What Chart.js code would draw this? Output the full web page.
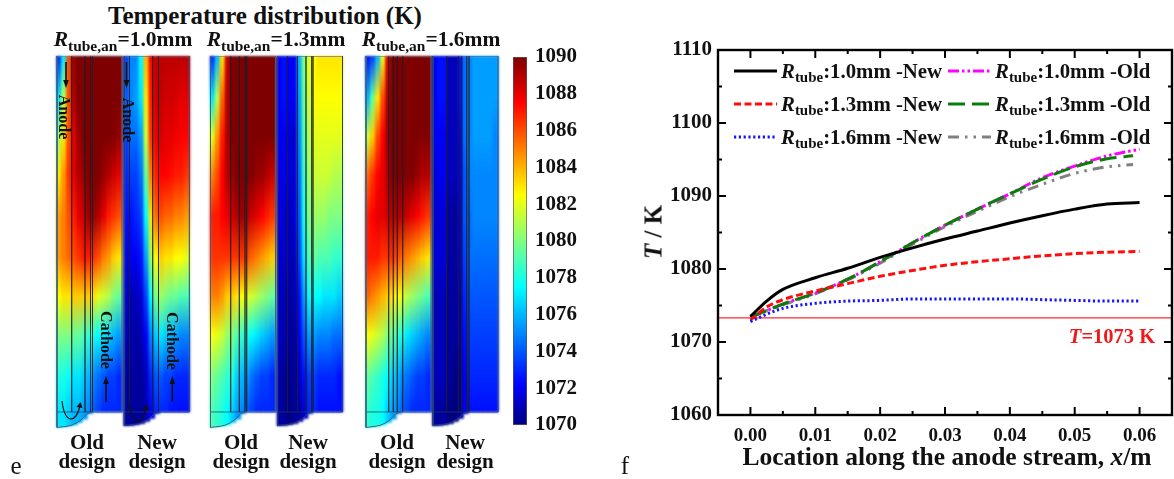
<!DOCTYPE html>
<html>
<head>
<meta charset="utf-8">
<script src="https://cdn.jsdelivr.net/npm/chart.js@4"></script>
<style>
  html, body { margin: 0; padding: 0; background: #fff; }
  #page { position: relative; width: 1174px; height: 479px; overflow: hidden; font-family: "Liberation Serif", serif; font-weight: bold; color: #111; }
  canvas { position: absolute; }
  #heatCanvas { left: 50px; top: 56px; filter: blur(1.2px); }
  #overlayCanvas { left: 50px; top: 56px; }
  #barCanvas { left: 513px; top: 40px; }
  #lineCanvas { left: 640px; top: 20px; }
  .t { position: absolute; white-space: nowrap; transform: translate(-50%, -50%); line-height: 1; }
  .t sub { font-size: 0.72em; vertical-align: -0.3em; line-height: 0; }
  .design { font-size: 21px; text-align: center; line-height: 19px; white-space: normal; width: 70px; }
  .rot { font-size: 16px; transform: translate(-50%, -50%) rotate(90deg); }
  .swatch { position: absolute; }
</style>
</head>
<body>
<div id="page">
  <canvas id="heatCanvas" width="450" height="372"></canvas>
  <canvas id="overlayCanvas" width="450" height="372"></canvas>
  <canvas id="barCanvas" width="70" height="400"></canvas>
  <canvas id="lineCanvas" width="534" height="459"></canvas>

  <div class="t" style="left:265px;top:15px;font-size:25px">Temperature distribution (K)</div>
  <div class="t" style="left:123px;top:40px;font-size:21.5px"><i>R</i><sub>tube,an</sub>=1.0mm</div>
  <div class="t" style="left:276px;top:40px;font-size:21.5px"><i>R</i><sub>tube,an</sub>=1.3mm</div>
  <div class="t" style="left:431px;top:40px;font-size:21.5px"><i>R</i><sub>tube,an</sub>=1.6mm</div>

  <div class="t rot" style="left:64px;top:117px">Anode</div>
  <div class="t rot" style="left:128px;top:120px">Anode</div>
  <div class="t rot" style="left:106px;top:340px">Cathode</div>
  <div class="t rot" style="left:172px;top:341px">Cathode</div>

  <div class="t design" style="left:87px;top:452px">Old design</div>
  <div class="t design" style="left:157px;top:452px">New design</div>
  <div class="t design" style="left:241px;top:452px">Old design</div>
  <div class="t design" style="left:308px;top:452px">New design</div>
  <div class="t design" style="left:397px;top:452px">Old design</div>
  <div class="t design" style="left:465px;top:452px">New design</div>

  <div class="t" style="left:16px;top:465px;font-size:25px;font-weight:normal">e</div>
  <div class="t" style="left:625px;top:465px;font-size:25px;font-weight:normal">f</div>

  <div class="t" style="left:653px;top:232px;font-size:25px;transform:translate(-50%,-50%) rotate(-90deg)"><i>T</i> / K</div>
  <div class="t" style="left:947px;top:457px;font-size:25.5px"><span>Location along the anode stream, </span><i>x</i>/m</div>
  <div class="t" style="left:1112px;top:336px;font-size:20.5px;color:#f01818"><i>T</i>=1073 K</div>
  <div id="legendBox"></div>
</div>

<script>
// colour bar
const barTicks = [1070, 1072, 1074, 1076, 1078, 1080, 1082, 1084, 1086, 1088, 1090]

// T along the anode stream (panel f)
const xLoc = [0, 0.0025, 0.005, 0.01, 0.015, 0.02, 0.025, 0.03, 0.035, 0.04, 0.045, 0.05, 0.055, 0.06]
const xLocShort = [0, 0.0025, 0.005, 0.01, 0.015, 0.02, 0.025, 0.03, 0.035, 0.04, 0.045, 0.05, 0.055, 0.059]
const new10 = [1073.5, 1075.6, 1077.2, 1078.8, 1080.1, 1081.6, 1082.9, 1084.1, 1085.2, 1086.3, 1087.3, 1088.2, 1088.9, 1089.1]
const new13 = [1073, 1074.8, 1075.8, 1077, 1078, 1079, 1079.8, 1080.5, 1081, 1081.4, 1081.8, 1082.1, 1082.3, 1082.4]
const new16 = [1072.8, 1073.8, 1074.6, 1075.3, 1075.6, 1075.7, 1075.9, 1075.9, 1075.9, 1075.9, 1075.8, 1075.7, 1075.6, 1075.6]
const old10 = [1073.4, 1074.3, 1075.2, 1076.7, 1078.6, 1081, 1083.6, 1086, 1088.2, 1090.3, 1092.5, 1094.1, 1095.5, 1096.4]
const old13 = [1073.4, 1074.3, 1075.2, 1076.7, 1078.6, 1081, 1083.6, 1086, 1088.2, 1090.3, 1092.3, 1094, 1095.1, 1095.5]
const old16 = [1073.4, 1074.3, 1075.1, 1076.6, 1078.5, 1080.8, 1083.4, 1085.8, 1087.9, 1089.9, 1091.6, 1093.1, 1094, 1094.3]
const refTemp = 1073.3
const xTicks = [0, 0.01, 0.02, 0.03, 0.04, 0.05, 0.06]
const yTicks = [1060, 1070, 1080, 1090, 1100, 1110]

// temperature fields (panel e): one row per depth, one value per column
const rowDepth = [0, 7, 13.5, 20, 27, 34, 40.5, 47, 54, 60]
const heatOld10 = [
  [1073, 1077, 1086, 1089.5, 1090, 1090, 1090, 1090, 1090, 1090, 1090, 1090, 1090],
  [1077, 1081, 1086, 1089, 1090, 1090, 1090, 1090, 1090, 1090, 1090, 1090, 1090],
  [1080.5, 1083, 1086, 1088, 1089.5, 1090, 1090, 1090, 1090, 1090, 1090, 1090, 1089.5],
  [1083, 1084.5, 1086.5, 1088, 1089, 1089.5, 1090, 1090, 1090, 1089.5, 1089, 1088.5, 1088],
  [1084.5, 1085, 1086, 1087, 1088, 1088.5, 1089.5, 1089.5, 1089, 1088, 1087, 1086.5, 1086],
  [1084.5, 1085, 1085.5, 1086, 1086.5, 1087, 1087, 1086.5, 1086, 1085, 1084.5, 1083.5, 1083],
  [1082.5, 1083, 1083, 1083.5, 1083.5, 1083.5, 1083.5, 1083, 1082, 1081.5, 1081, 1080, 1079.5],
  [1080, 1080, 1080, 1079.5, 1079.5, 1079, 1078.5, 1078, 1077.5, 1077, 1076.5, 1076, 1075.5],
  [1078, 1078, 1077.5, 1077, 1077, 1076.5, 1076, 1075, 1074.5, 1074, 1073.5, 1073.5, 1073],
  [1077, 1077, 1076.5, 1076, 1076, 1075.5, 1075, 1074, 1073.5, 1073, 1073, 1073, 1073]
]
const heatNew10 = [
  [1073.5, 1075, 1075, 1077.5, 1084, 1087.5, 1088.8, 1088.8, 1088.8, 1088.8, 1088.8, 1088.8, 1088.8],
  [1074, 1075, 1075.5, 1077, 1083, 1087, 1088.5, 1088.7, 1088.4, 1088.4, 1088.3, 1088, 1088],
  [1073.5, 1074.5, 1074.5, 1075.5, 1081.5, 1086.5, 1088, 1088.3, 1088, 1088, 1087.8, 1087.6, 1087.5],
  [1073, 1073.5, 1073.5, 1074.5, 1079.5, 1085, 1087, 1087.5, 1087.5, 1087.3, 1087, 1087, 1086.5],
  [1072.5, 1072.5, 1073, 1073.5, 1077.5, 1083, 1085.5, 1086, 1085.5, 1085.5, 1085, 1085, 1084.5],
  [1072, 1072, 1072, 1072.5, 1075.5, 1080.5, 1082.5, 1083.5, 1083, 1083, 1082.5, 1082.5, 1082],
  [1071.5, 1071, 1071, 1071.5, 1073.5, 1077.5, 1080, 1080.5, 1080, 1079.5, 1079.5, 1079, 1079],
  [1071, 1071, 1070.5, 1071, 1072, 1075, 1076.5, 1077, 1076.5, 1076, 1075.5, 1075, 1075],
  [1070.5, 1070.5, 1070.5, 1070.5, 1071, 1073, 1074, 1074, 1073.5, 1073.5, 1073, 1073, 1073],
  [1070.5, 1070.5, 1070.5, 1070.5, 1071, 1072, 1073, 1073, 1073, 1072.5, 1072.5, 1072.5, 1072.5]
]
const heatOld13 = [
  [1073, 1076, 1083, 1088.5, 1090, 1090, 1090, 1090, 1090, 1090, 1090, 1090, 1090],
  [1077, 1081, 1085.5, 1089, 1090, 1090, 1090, 1090, 1090, 1090, 1090, 1090, 1090],
  [1082, 1084.5, 1087, 1089, 1090, 1090, 1090, 1090, 1090, 1090, 1090, 1090, 1090],
  [1085, 1086, 1087.5, 1089, 1089.5, 1090, 1090, 1090, 1090, 1089.5, 1089.5, 1089, 1088.5],
  [1087, 1087, 1087.5, 1088, 1088.5, 1089, 1089.5, 1089, 1088.5, 1088, 1087.5, 1087, 1086.5],
  [1086.5, 1086.5, 1086.5, 1086.5, 1086.5, 1086.5, 1086.5, 1086, 1085.5, 1085, 1084.5, 1084, 1083.5],
  [1085, 1085, 1084.5, 1083.5, 1083.5, 1083, 1082.5, 1082, 1081.5, 1081, 1080.5, 1080, 1079.5],
  [1082.5, 1082, 1081.5, 1080.5, 1080, 1079, 1078.5, 1078, 1077.5, 1077, 1076.5, 1076, 1075.5],
  [1080, 1079.5, 1079, 1078.5, 1078, 1076.5, 1076, 1075.5, 1074.5, 1074, 1073.5, 1073.5, 1073],
  [1079, 1078.5, 1078, 1077.5, 1076.5, 1075.5, 1075, 1074, 1073.5, 1073, 1073, 1073, 1073]
]
const heatNew13 = [
  [1072, 1072.5, 1072, 1072, 1076, 1080, 1082, 1082.5, 1083, 1083, 1083, 1083, 1083],
  [1072, 1072.5, 1072, 1072, 1075.5, 1079.5, 1081.5, 1082.5, 1082.5, 1082.5, 1082.5, 1082.5, 1082.5],
  [1072, 1072, 1071.5, 1071.5, 1075, 1079, 1081, 1082, 1082, 1082, 1082, 1082, 1082],
  [1071.5, 1072, 1071.5, 1071.5, 1074.5, 1078.5, 1080.5, 1081.5, 1081.5, 1081.5, 1081.5, 1081, 1081],
  [1071.5, 1071.5, 1071, 1071.5, 1074, 1078, 1080, 1080.5, 1080.5, 1080.5, 1080, 1080, 1080],
  [1071, 1071.5, 1071, 1071, 1073.5, 1077, 1079, 1079.5, 1079, 1079, 1079, 1078.5, 1078.5],
  [1071, 1071, 1070.5, 1071, 1072.5, 1075.5, 1077.5, 1077.5, 1077.5, 1077, 1077, 1077, 1076.5],
  [1071, 1071, 1070.5, 1070.5, 1072, 1074, 1075.5, 1075.5, 1075, 1075, 1075, 1074.5, 1074.5],
  [1070.5, 1070.5, 1070, 1070.5, 1071, 1072.5, 1073.5, 1073.5, 1073, 1073, 1073, 1073, 1072.5],
  [1070.5, 1070.5, 1070, 1070.5, 1070.5, 1071.5, 1073, 1073, 1072.5, 1072.5, 1072.5, 1072.5, 1072.5]
]
const heatOld16 = [
  [1072.5, 1073.5, 1076, 1082, 1088, 1090, 1090, 1090, 1090, 1090, 1090, 1090, 1090],
  [1076, 1079.5, 1083, 1086, 1089, 1090, 1090, 1090, 1090, 1090, 1090, 1090, 1090],
  [1081.5, 1083.5, 1086, 1087.5, 1089.5, 1090, 1090, 1090, 1090, 1090, 1090, 1090, 1090],
  [1085.5, 1086.5, 1087.5, 1088, 1089, 1090, 1090, 1090, 1090, 1090, 1089.5, 1089, 1089],
  [1087, 1087.5, 1088, 1088, 1088.5, 1089, 1089, 1089, 1088.5, 1088, 1087.5, 1087, 1086.5],
  [1087, 1087, 1087, 1086.5, 1086.5, 1086.5, 1086, 1085.5, 1085, 1084.5, 1084, 1083.5, 1083],
  [1085.5, 1085, 1084.5, 1084, 1083.5, 1083, 1082.5, 1082, 1081, 1080.5, 1080, 1079.5, 1079],
  [1082.5, 1082, 1081.5, 1081, 1080, 1079.5, 1078.5, 1078, 1077, 1076.5, 1076, 1075.5, 1075],
  [1079.5, 1079, 1078.5, 1078, 1077.5, 1076.5, 1076, 1075, 1074.5, 1074, 1073.5, 1073.5, 1073],
  [1078.5, 1078, 1078, 1077.5, 1076.5, 1075.5, 1075, 1074, 1073.5, 1073, 1073, 1073, 1073]
]
const heatNew16 = [
  [1072, 1072.5, 1072.5, 1071, 1071, 1072.5, 1074.5, 1075, 1075.5, 1075.5, 1075.5, 1075.5, 1075.5],
  [1072, 1072.5, 1072.5, 1071, 1071, 1072.5, 1074.5, 1075, 1075.5, 1075.5, 1075.5, 1075.5, 1075.5],
  [1072, 1072, 1072, 1071, 1071, 1072, 1074.5, 1075, 1075.5, 1075.5, 1075.5, 1075.5, 1075],
  [1071.5, 1072, 1072, 1071, 1071, 1072, 1074, 1075, 1075, 1075, 1075, 1075, 1075],
  [1071.5, 1071.5, 1071.5, 1070.5, 1070.5, 1071.5, 1074, 1074.5, 1075, 1075, 1075, 1075, 1075],
  [1071.5, 1071.5, 1071.5, 1070.5, 1070.5, 1071.5, 1073.5, 1074.5, 1074.5, 1074.5, 1074.5, 1074.5, 1074.5],
  [1071, 1071, 1071, 1070.5, 1070.5, 1071, 1073, 1074, 1074, 1074, 1074, 1074, 1074],
  [1071, 1071, 1071, 1070.5, 1070.5, 1071, 1072.5, 1073.5, 1073.5, 1073.5, 1073.5, 1073.5, 1073.5],
  [1071, 1071, 1071, 1070.5, 1070, 1070.5, 1072, 1073, 1073, 1073, 1073, 1073, 1073],
  [1070.5, 1070.5, 1070.5, 1070, 1070, 1070.5, 1072, 1072.5, 1072.5, 1072.5, 1072.5, 1072.5, 1072.5]
]
const capOld = [2.6, 2.5, 2.4, 2.2, 1.8, 1.2, 0.3, 0, 0, 0, 0, 0, 0]
const capNew = [2.3, 2.25, 2.15, 1.95, 1.6, 1.1, 0.3, 0, 0, 0, 0, 0, 0]

// panel layout (x in px of the page)
const colWidth = 5
const panelLeft = [57, 124.3, 210.5, 277.5, 366, 433]
const panelWalls = [
  [71.7, 85, 90.5, 92.5],
  [129.5, 152.7, 158.5],
  [230.7, 239.3, 245, 246.7],
  [287.5, 297.5, 306, 311.7, 313],
  [388.7, 393.3, 397.3, 402.7],
  [446.7, 458.3, 461.7, 466.7, 469]
]
const panelFields = [heatOld10, heatNew10, heatOld13, heatNew13, heatOld16, heatNew16]
const panelCaps = [capOld, capNew, capOld, capNew, capOld, capNew]

// jet colour map
const jetStops = [[0, [0, 0, 127]], [0.11, [0, 0, 255]], [0.375, [0, 255, 255]], [0.625, [255, 255, 0]], [0.875, [255, 0, 0]], [1, [127, 0, 0]]]
const jetColor = (t) => {
  t = Math.max(0, Math.min(1, t))
  for (let i = 1; i < jetStops.length; i++) {
    if (t <= jetStops[i][0]) {
      const [a, ca] = jetStops[i - 1]
      const [b, cb] = jetStops[i]
      const f = (t - a) / (b - a)
      return `rgb(${ca.map((c, k) => Math.round(c + (cb[k] - c) * f)).join(',')})`
    }
  }
  return 'rgb(127,0,0)'
}
const tempColor = (v) => jetColor((v - 1070) / 20)

Chart.defaults.animation = false
Chart.defaults.font.family = '"Liberation Serif", serif'
Chart.defaults.plugins.legend.display = false
Chart.defaults.plugins.tooltip.enabled = false

// 温度場: 各列を縦グラデーションのバーで描く
const heatDatasets = panelFields.map((field, p) => ({
  data: field[0].map((_, c) => ({
    x: panelLeft[p] + colWidth * (c + 0.5),
    y: [0, 60 + panelCaps[p][c]]
  })),
  backgroundColor: (ctx) => {
    if (ctx.dataIndex === undefined || !ctx.chart.chartArea) return 'transparent'
    const yScale = ctx.chart.scales.y
    const y0 = yScale.getPixelForValue(0)
    const y1 = yScale.getPixelForValue(60)
    if (!isFinite(y0) || !isFinite(y1)) return 'transparent'
    const grad = ctx.chart.ctx.createLinearGradient(0, y0, 0, y1)
    rowDepth.forEach((d, r) => grad.addColorStop(d / 60, tempColor(field[r][ctx.dataIndex])))
    return grad
  },
  barThickness: colWidth + 1,
  grouped: false
}))

const hiddenX = { type: 'linear', min: 50, max: 500, display: false, offset: false }
const hiddenY = { type: 'linear', min: 0, max: 62.7, reverse: true, display: false }
const noPad = { padding: 0 }

new Chart(document.querySelector('#heatCanvas'), {
  type: 'bar',
  data: { datasets: heatDatasets },
  options: { responsive: false, layout: noPad, scales: { x: hiddenX, y: hiddenY } }
})

// 壁と外形線
const outlineDatasets = []
panelLeft.forEach((left, p) => {
  const right = left + colWidth * 13
  const cap = panelCaps[p]
  const path = [{ x: right, y: 60 }, { x: right, y: 0 }, { x: left, y: 0 }]
  cap.forEach((d, c) => { if (c < 7) path.push({ x: left + colWidth * c, y: 60 + d }) })
  path.push({ x: left + colWidth * 7, y: 60 }, { x: right, y: 60 })
  outlineDatasets.push({ data: path, borderColor: p % 2 ? '#24427a' : '#3a5f80', borderWidth: 1 })
  outlineDatasets.push({ data: [{ x: left, y: 60 }, { x: left + colWidth * 7, y: 60 }], borderColor: 'rgba(30,60,70,0.7)', borderWidth: 1 })
  panelWalls[p].forEach((w) => {
    outlineDatasets.push({
      data: [{ x: w, y: 0 }, { x: w, y: 60 }],
      borderColor: 'rgba(30,30,40,0.55)',
      borderWidth: 1
    })
  })
})

const drawArrow = (ctx, x, y0, y1) => {
  const dir = y1 > y0 ? 1 : -1
  ctx.beginPath()
  ctx.moveTo(x, y0)
  ctx.lineTo(x, y1 - dir * 4)
  ctx.lineWidth = 1.6
  ctx.stroke()
  ctx.beginPath()
  ctx.moveTo(x, y1)
  ctx.lineTo(x - 2.8, y1 - dir * 8)
  ctx.lineTo(x + 2.8, y1 - dir * 8)
  ctx.closePath()
  ctx.fill()
}

const arrowPlugin = {
  id: 'arrows',
  afterDatasetsDraw(chart) {
    const { ctx, scales } = chart
    const px = (x) => scales.x.getPixelForValue(x)
    const py = (pageY) => pageY - 56
    ctx.save()
    ctx.strokeStyle = '#111'
    ctx.fillStyle = '#111'
    drawArrow(ctx, px(66), py(62), py(88))
    drawArrow(ctx, px(126.5), py(62), py(88))
    drawArrow(ctx, px(106), py(402), py(376))
    drawArrow(ctx, px(172.3), py(402), py(376))
    ;[[62, 401, 80], [129, 403, 146]].forEach(([x0, y0, x1]) => {
      ctx.beginPath()
      ctx.moveTo(px(x0), py(y0))
      ctx.bezierCurveTo(px(x0 + 3), py(y0 + 24), px(x1 - 4), py(y0 + 22), px(x1), py(y0 + 5))
      ctx.lineWidth = 1.2
      ctx.stroke()
      ctx.beginPath()
      ctx.moveTo(px(x1 + 0.5), py(y0 + 1))
      ctx.lineTo(px(x1 - 3.5), py(y0 + 6))
      ctx.lineTo(px(x1 + 2.5), py(y0 + 7))
      ctx.closePath()
      ctx.fill()
    })
    ctx.restore()
  }
}

new Chart(document.querySelector('#overlayCanvas'), {
  type: 'scatter',
  data: { datasets: outlineDatasets.map((d) => ({ ...d, showLine: true, pointRadius: 0, fill: false })) },
  options: { responsive: false, layout: noPad, clip: false, scales: { x: hiddenX, y: hiddenY } },
  plugins: [arrowPlugin]
})

// カラーバー
new Chart(document.querySelector('#barCanvas'), {
  type: 'bar',
  data: {
    labels: ['T'],
    datasets: [{
      data: [[barTicks[0], barTicks[barTicks.length - 1]]],
      backgroundColor: (ctx) => {
        const area = ctx.chart.chartArea
        if (!area) return 'transparent'
        const grad = ctx.chart.ctx.createLinearGradient(0, area.bottom, 0, area.top)
        for (let i = 0; i <= 40; i++) grad.addColorStop(i / 40, jetColor(i / 40))
        return grad
      },
      barPercentage: 1,
      categoryPercentage: 1,
      borderColor: '#555',
      borderWidth: 1,
      borderSkipped: false
    }]
  },
  options: {
    responsive: false,
    layout: { padding: { top: 17, bottom: 15 } },
    scales: {
      x: { display: false },
      y: {
        position: 'right',
        min: barTicks[0],
        max: barTicks[barTicks.length - 1],
        afterBuildTicks: (axis) => { axis.ticks = barTicks.map((value) => ({ value })) },
        afterFit: (axis) => { axis.width = 56; axis.paddingTop = 0; axis.paddingBottom = 0 },
        grid: { display: false, drawTicks: false },
        border: { display: false },
        ticks: { padding: 8, color: '#111', font: { size: 21, weight: 'bold' }, callback: (v) => String(v) }
      }
    }
  }
})

// 右グラフ: 系列と凡例
const series = [
  { name: '1.6mm -New', data: new16, xs: xLoc, color: '#1414ff', width: 3, dash: [2.2, 2.6], row: 2, col: 0 },
  { name: '1.3mm -New', data: new13, xs: xLoc, color: '#ff0d0d', width: 3, dash: [7, 3.5], row: 1, col: 0 },
  { name: '1.0mm -New', data: new10, xs: xLoc, color: '#000000', width: 3, dash: [], row: 0, col: 0 },
  { name: '1.3mm -Old', data: old13, xs: xLocShort, color: '#0b7d0b', width: 3, dash: [17, 7], row: 1, col: 1 },
  { name: '1.0mm -Old', data: old10, xs: xLoc, color: '#ff00ff', width: 3, dash: [11, 3, 2.5, 3, 2.5, 3], row: 0, col: 1 },
  { name: '1.6mm -Old', data: old16, xs: xLocShort, color: '#808080', width: 3, dash: [11, 6, 2.5, 6, 2.5, 6], row: 2, col: 1 }
]

const frameTicks = {
  id: 'frameTicks',
  afterDatasetsDraw(chart) {
    const { ctx, chartArea: a, scales } = chart
    ctx.save()
    ctx.strokeStyle = '#000'
    ctx.lineWidth = 2.4
    ctx.strokeRect(a.left, a.top, a.right - a.left, a.bottom - a.top)
    ctx.lineWidth = 2
    ctx.beginPath()
    for (let k = 0; k <= 12; k++) {
      const x = scales.x.getPixelForValue(k * 0.005)
      const len = k % 2 ? 4 : 8
      ctx.moveTo(x, a.bottom); ctx.lineTo(x, a.bottom - len)
      ctx.moveTo(x, a.top); ctx.lineTo(x, a.top + len)
    }
    for (let k = 0; k <= 10; k++) {
      const y = scales.y.getPixelForValue(1060 + k * 5)
      const len = k % 2 ? 4 : 8
      ctx.moveTo(a.left, y); ctx.lineTo(a.left + len, y)
      ctx.moveTo(a.right, y); ctx.lineTo(a.right - len, y)
    }
    ctx.stroke()
    ctx.restore()
  }
}

new Chart(document.querySelector('#lineCanvas'), {
  type: 'scatter',
  data: {
    datasets: series.map((s) => ({
      data: s.data.map((y, i) => ({ x: s.xs[i], y })),
      showLine: true,
      cubicInterpolationMode: 'monotone',
      pointRadius: 0,
      borderColor: s.color,
      borderWidth: s.width,
      borderDash: s.dash,
      fill: false
    })).concat([{
      data: [{ x: -0.005, y: refTemp }, { x: 0.065, y: refTemp }],
      showLine: true,
      pointRadius: 0,
      borderColor: '#ff2a2a',
      borderWidth: 1.3
    }])
  },
  options: {
    responsive: false,
    layout: { padding: { top: 30, right: 2 } },
    scales: {
      x: {
        min: -0.005,
        max: 0.065,
        afterBuildTicks: (axis) => { axis.ticks = xTicks.map((value) => ({ value })) },
        afterFit: (axis) => { axis.height = 64 },
        grid: { display: false, drawTicks: false },
        border: { display: false },
        ticks: { padding: 10, color: '#111', maxRotation: 0, font: { size: 19, weight: 'bold' }, callback: (v) => v.toFixed(2) }
      },
      y: {
        min: 1060,
        max: 1110,
        afterBuildTicks: (axis) => { axis.ticks = yTicks.map((value) => ({ value })) },
        afterFit: (axis) => { axis.width = 78 },
        grid: { display: false, drawTicks: false },
        border: { display: false },
        ticks: { padding: 6, color: '#111', font: { size: 21, weight: 'bold' }, callback: (v) => String(v) }
      }
    }
  },
  plugins: [frameTicks]
})

// 凡例 (下付き文字があるのでHTMLで組む)
const legendRowY = [71, 104, 137]
const legendColX = [734, 948]
const legendBox = document.querySelector('#legendBox')
series.forEach((s) => {
  const y = legendRowY[s.row]
  const x = legendColX[s.col]
  const svg = document.createElementNS('http://www.w3.org/2000/svg', 'svg')
  svg.setAttribute('class', 'swatch')
  svg.setAttribute('width', '43')
  svg.setAttribute('height', '6')
  svg.style.left = x + 'px'
  svg.style.top = (y - 3) + 'px'
  const line = document.createElementNS('http://www.w3.org/2000/svg', 'line')
  line.setAttribute('x1', 0); line.setAttribute('x2', 43)
  line.setAttribute('y1', 3); line.setAttribute('y2', 3)
  line.setAttribute('stroke', s.color)
  line.setAttribute('stroke-width', s.width)
  line.setAttribute('stroke-dasharray', s.dash.join(' '))
  svg.appendChild(line)
  legendBox.appendChild(svg)
  const label = document.createElement('div')
  label.className = 't'
  label.style.cssText = `transform:translate(0,-50%);left:${x + 47}px;top:${y}px;font-size:20.8px`
  label.innerHTML = `<i>R</i><sub>tube</sub>:${s.name}`
  legendBox.appendChild(label)
})
</script>
</body>
</html>
